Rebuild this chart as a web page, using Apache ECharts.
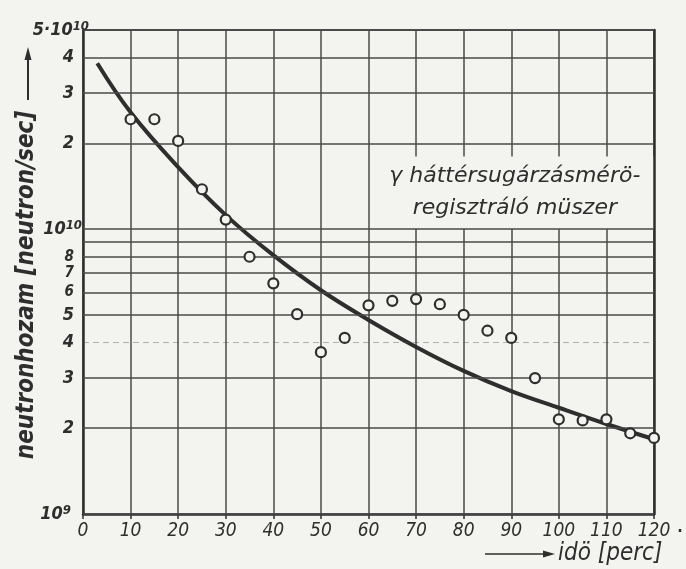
<!DOCTYPE html>
<html>
<head>
<meta charset="utf-8">
<script src="https://cdn.jsdelivr.net/npm/echarts@6/dist/echarts.min.js"></script>
<style>
  html, body { margin: 0; padding: 0; background: #f3f3f0; }
  #chart { width: 686px; height: 569px; }
</style>
</head>
<body>
<div id="chart"></div>
<script>
// Measured neutron yield (neutron/sec) against time (minutes)
const timeMin = [10, 15, 20, 25, 30, 35, 40, 45, 50, 55, 60, 65, 70, 75, 80, 85, 90, 95, 100, 105, 110, 115, 120];
const measuredYield = [2.43e10, 2.43e10, 2.04e10, 1.38e10, 1.08e10, 8.0e9, 6.45e9, 5.03e9, 3.7e9, 4.15e9, 5.4e9, 5.6e9, 5.68e9, 5.45e9, 5.0e9, 4.4e9, 4.15e9, 3.0e9, 2.15e9, 2.13e9, 2.15e9, 1.92e9, 1.85e9];

// Fitted decay curve
const fitTime = [3, 10, 20, 30, 40, 50, 60, 70, 80, 90, 100, 110, 120];
const fitYield = [3.82e10, 2.57e10, 1.65e10, 1.12e10, 8.1e9, 6.1e9, 4.8e9, 3.86e9, 3.18e9, 2.7e9, 2.36e9, 2.07e9, 1.83e9];

// Horizontal grid of the log axis and its labels
const yGridValues = [1e9, 2e9, 3e9, 4e9, 5e9, 6e9, 7e9, 8e9, 9e9, 1e10, 2e10, 3e10, 4e10, 5e10];
const yTickBase = ['10', '2', '3', '4', '5', '6', '7', '8', '', '10', '2', '3', '4', '5·10'];
const yTickExp = ['9', '', '', '', '', '', '', '', '', '10', '', '', '', '10'];

const INK = '#2e2e2e';
const GRIDINK = '#4a4a4a';
const PAPER = '#f3f3f0';
const FONT = "'DejaVu Sans Condensed', 'Liberation Sans Narrow', 'DejaVu Sans', sans-serif";
const WIDE = "'DejaVu Sans', 'Liberation Sans', sans-serif";

// label gap left of the axis; the powers of ten sit closer, the top one overhangs the axis
function labelGap(v, hasExp) {
  if (!hasExp) return 9;
  if (v === 1e9) return 12;
  if (v === 1e10) return 1;
  return -6;
}

const gridLines = yGridValues.map((v, i) => {
  const base = yTickBase[i];
  const exp = yTickExp[i];
  const small = (v >= 6e9 && v <= 8e9);
  const faint = (v === 4e9);
  return {
    yAxis: v,
    lineStyle: faint
      ? { color: 'rgba(74,74,74,0.4)', width: 1, type: [6, 4] }
      : { color: GRIDINK, width: (v === 5e10 ? 2 : 1.5), type: 'solid' },
    label: {
      show: base !== '',
      position: 'start',
      distance: labelGap(v, !!exp),
      formatter: exp ? '{m|' + base + '}{s|' + exp + '}' : (small ? '{n|' + base + '}' : '{m|' + base + '}')
    }
  };
});

const chart = echarts.init(document.getElementById('chart'), null, { renderer: 'canvas' });

chart.setOption({
  backgroundColor: PAPER,
  animation: false,
  grid: { left: 83, right: 32, top: 30, bottom: 55 },
  xAxis: {
    type: 'value',
    min: 0,
    max: 120,
    interval: 10,
    axisLine: { show: true, lineStyle: { color: INK, width: 2.5 } },
    axisTick: { show: true, length: 5, lineStyle: { color: INK, width: 1.5 } },
    axisLabel: { color: INK, fontFamily: FONT, fontStyle: 'italic', fontSize: 19, margin: 8 },
    splitLine: { show: true, lineStyle: { color: GRIDINK, width: 1.5 } }
  },
  yAxis: [
    {
      type: 'log',
      logBase: 10,
      min: 1e9,
      max: 5e10,
      axisLine: { show: true, lineStyle: { color: INK, width: 2.5 } },
      axisTick: { show: false },
      axisLabel: { show: false },
      splitLine: { show: false }
    },
    {
      type: 'log',
      logBase: 10,
      min: 1e9,
      max: 5e10,
      position: 'right',
      z: 3,
      axisLine: { show: true, lineStyle: { color: INK, width: 2.5 } },
      axisTick: { show: false },
      axisLabel: { show: false },
      splitLine: { show: false }
    }
  ],
  series: [
    {
      name: 'illesztett görbe',
      type: 'line',
      smooth: 0.4,
      showSymbol: false,
      symbol: 'none',
      lineStyle: { color: INK, width: 4 },
      data: fitTime.map((t, i) => [t, fitYield[i]]),
      z: 4,
      markLine: {
        silent: true,
        symbol: ['none', 'none'],
        animation: false,
        label: {
          color: INK,
          rich: {
            m: { fontSize: 18, fontFamily: FONT, fontStyle: 'italic', fontWeight: 'bold', color: INK, verticalAlign: 'bottom' },
            n: { fontSize: 15, fontFamily: FONT, fontStyle: 'italic', fontWeight: 'bold', color: INK },
            s: { fontSize: 13, fontFamily: FONT, fontStyle: 'italic', fontWeight: 'bold', color: INK, verticalAlign: 'top', padding: [0, 0, 6, 0] }
          }
        },
        emphasis: { disabled: true },
        data: gridLines
      },
      markArea: {
        silent: true,
        itemStyle: { color: PAPER, opacity: 1 },
        label: {
          show: true,
          position: 'inside',
          formatter: '{a|γ háttérsugárzásmérö-}\n{a|regisztráló müszer}',
          rich: {
            a: { fontSize: 22, fontFamily: WIDE, fontStyle: 'italic', color: INK, lineHeight: 32, align: 'center' }
          }
        },
        data: [[{ coord: [61.5, 1.8e10] }, { coord: [120, 1.0e10] }]]
      }
    },
    {
      name: 'mért értékek',
      type: 'scatter',
      symbol: 'circle',
      symbolSize: 10,
      z: 5,
      itemStyle: { color: PAPER, borderColor: INK, borderWidth: 2.2, opacity: 1 },
      data: timeMin.map((t, i) => [t, measuredYield[i]])
    }
  ],
  graphic: [
    {
      type: 'text',
      x: 27,
      y: 285,
      rotation: Math.PI / 2,
      style: {
        text: 'neutronhozam [neutron/sec]',
        font: 'italic bold 24px ' + FONT,
        fill: INK,
        textAlign: 'center',
        textVerticalAlign: 'middle'
      }
    },
    {
      type: 'line',
      shape: { x1: 28, y1: 100, x2: 28, y2: 58 },
      style: { stroke: INK, lineWidth: 2 }
    },
    {
      type: 'polygon',
      shape: { points: [[28, 47], [24.5, 60], [31.5, 60]] },
      style: { fill: INK }
    },
    {
      type: 'line',
      shape: { x1: 485, y1: 554, x2: 545, y2: 554 },
      style: { stroke: INK, lineWidth: 1.5 }
    },
    {
      type: 'polygon',
      shape: { points: [[555, 554], [543, 550.5], [543, 557.5]] },
      style: { fill: INK }
    },
    {
      type: 'text',
      x: 558,
      y: 554,
      style: {
        text: 'idö [perc]',
        font: 'italic 24px ' + FONT,
        fill: INK,
        textAlign: 'left',
        textVerticalAlign: 'middle'
      }
    },
    {
      type: 'text',
      x: 680,
      y: 528,
      style: { text: '.', font: 'bold 16px ' + FONT, fill: INK, textAlign: 'center', textVerticalAlign: 'middle' }
    }
  ]
});
</script>
</body>
</html>
